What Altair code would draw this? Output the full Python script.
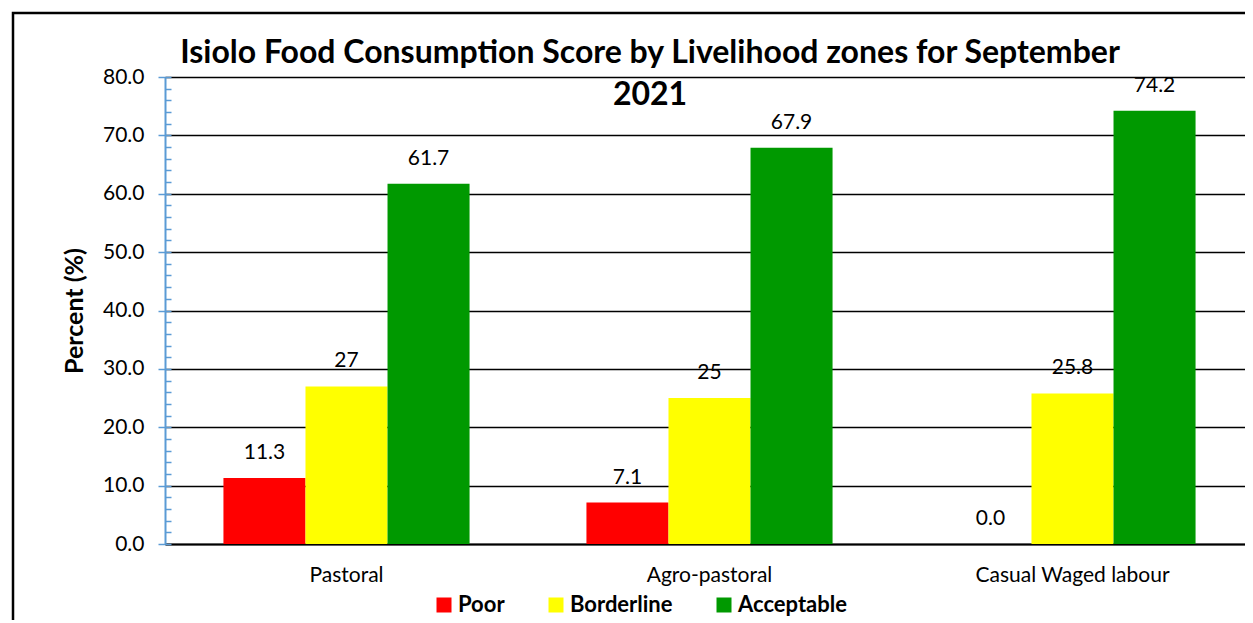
import altair as alt
import pandas as pd

zones = ["Pastoral", "Agro-pastoral", "Casual Waged labour"]
statuses = ["Poor", "Borderline", "Acceptable"]
poor = [11.3, 7.1, 0.0]
borderline = [27.0, 25.0, 25.8]
acceptable = [61.7, 67.9, 74.2]
poor_labels = ["11.3", "7.1", "0.0"]
borderline_labels = ["27", "25", "25.8"]
acceptable_labels = ["61.7", "67.9", "74.2"]
colors = ["#FF0000", "#FFFF00", "#009900"]
y_ticks = [0, 10, 20, 30, 40, 50, 60, 70, 80]
y_minor = list(range(0, 81, 2))

rows = []
for i, z in enumerate(zones):
    for s, vals, labs in zip(statuses, [poor, borderline, acceptable],
                             [poor_labels, borderline_labels, acceptable_labels]):
        rows.append({"zone": z, "status": s, "value": vals[i], "label": labs[i]})
df = pd.DataFrame(rows)

FONT = "Lato"
W, H = 1080, 467
XR = 1089
AXIS_BLUE = "#5B9BD5"

x_enc = alt.X("zone:N", sort=zones,
              scale=alt.Scale(paddingInner=0.322, paddingOuter=0.161, range=[0, XR]),
              axis=alt.Axis(title=None, ticks=False, labelAngle=0, labelFontSize=21,
                            labelFont=FONT, labelColor="black", labelPadding=20,
                            labelLimit=0, domainColor="black", domainWidth=2))
xo_enc = alt.XOffset("status:N", sort=statuses,
                     scale=alt.Scale(paddingInner=0, paddingOuter=0))
y_scale = alt.Scale(domain=[0, 80], nice=False)

bars = alt.Chart(df).mark_bar().encode(
    x=x_enc,
    xOffset=xo_enc,
    y=alt.Y("value:Q", scale=y_scale,
            axis=alt.Axis(title="Percent (%)", values=y_ticks, format=".1f",
                          labelFontSize=21, labelFont=FONT, labelColor="black",
                          labelPadding=14, tickColor=AXIS_BLUE, tickSize=7, tickWidth=1.5,
                          domainColor=AXIS_BLUE, domainWidth=2,
                          gridColor="black", gridWidth=1.5, grid=True,
                          titleFont=FONT, titleFontSize=25, titleFontWeight="bold",
                          titleColor="black", titlePadding=15)),
    color=alt.Color("status:N", sort=statuses,
                    scale=alt.Scale(domain=statuses, range=colors),
                    legend=alt.Legend(title=None, orient="none", direction="horizontal",
                                      legendX=268, legendY=517, symbolType="square",
                                      symbolSize=225, symbolStrokeWidth=0,
                                      labelFont=FONT, labelFontSize=22,
                                      labelFontWeight="bold", labelColor="black",
                                      columnPadding=40, labelOffset=3)),
)

texts = alt.Chart(df).mark_text(dy=-25, fontSize=21, font=FONT, color="black",
                                baseline="middle").encode(
    x=alt.X("zone:N", sort=zones),
    xOffset=alt.XOffset("status:N", sort=statuses),
    y=alt.Y("value:Q", scale=y_scale),
    text="label:N",
)

main = alt.layer(bars, texts)

minor = alt.Chart(df).mark_point(opacity=0).encode(
    y=alt.Y("value:Q", scale=y_scale,
            axis=alt.Axis(orient="right", offset=-W, values=y_minor, labels=False,
                          domain=False, grid=False, ticks=True, tickColor=AXIS_BLUE,
                          tickSize=6, tickWidth=1.5, title=None)),
)

border = alt.Chart(alt.Data(values=[{}])).mark_rect(
    filled=False, stroke="black", strokeWidth=2.5
).encode(
    x=alt.value(-152), x2=alt.value(W + 40),
    y=alt.value(-64), y2=alt.value(H + 120),
)

chart = alt.layer(border, main, minor).resolve_scale(y="independent").properties(
    width=W, height=H,
    title=alt.Title(
        text=["Isiolo Food Consumption Score by Livelihood zones for September", "2021"],
        font=FONT, fontSize=32, fontWeight="bold", color="black",
        anchor="middle", dx=-55, lineHeight=42, offset=-100,
    ),
    autosize=alt.AutoSizeParams(type="none"),
    padding={"left": 157, "top": 69, "right": 0, "bottom": 76},
).configure_view(stroke=None)

chart.save("out.html", embed_options={"renderer": "svg", "actions": False})
